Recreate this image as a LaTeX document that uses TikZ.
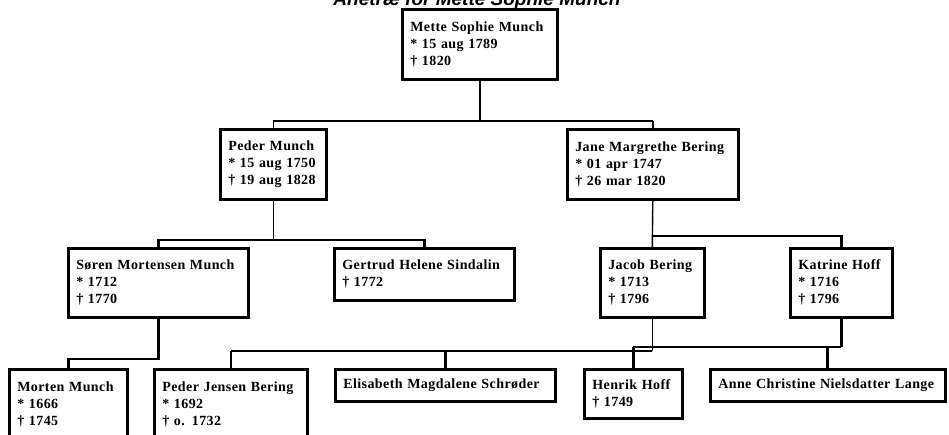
\documentclass[tikz,border=0pt]{standalone}
\usepackage{fontspec}
\newfontfamily\boxserif[LetterSpace=3]{Liberation Serif}
\newfontfamily\titlesans{Liberation Sans}
\newcommand\boxtext{\boxserif\bfseries\fontsize{14}{17}\selectfont}
\begin{document}
\begin{tikzpicture}[x=1pt, y=-1pt, line join=miter,
		pers/.style={draw, line width=2.6pt, anchor=north west, align=left, inner xsep=8pt, inner ysep=0pt, font=\boxtext},
		tynd/.style={line width=1.4pt},
		tyk/.style={line width=2.8pt}]
		\useasboundingbox (0,0) rectangle (949,434);
		%\draw[gray!30] (0,0) grid[step=50] (949,434);
		\node[anchor=base, font=\titlesans\bfseries\itshape\fontsize{19}{21}\selectfont] (titel) at (477,5) {Anetræ for Mette Sophie Munch};
		% generation 1
		\node[pers, text width=139, minimum height=70] (mette) at (401,8) {Mette Sophie Munch\\{*} 15 aug 1789\\† 1820};
		% generation 2
		\node[pers, text width=90, minimum height=70] (peder) at (219,128) {Peder Munch\\{*} 15 aug 1750\\† 19 aug 1828};
		\node[pers, text width=155, minimum height=70] (jane) at (566,128) {Jane Margrethe Bering\\{*} 01 apr 1747\\† 26 mar 1820};
		% generation 3
		\node[pers, text width=164, minimum height=69] (soren) at (67,247) {Søren Mortensen Munch\\{*} 1712\\† 1770};
		\node[pers, text width=164, minimum height=52] (gertrud) at (333,247) {Gertrud Helene Sindalin\\† 1772};
		\node[pers, text width=88, minimum height=69] (jacob) at (599,247) {Jacob Bering\\{*} 1713\\† 1796};
		\node[pers, text width=86, minimum height=69] (katrine) at (789,247) {Katrine Hoff\\{*} 1716\\† 1796};
		% generation 4
		\node[pers, text width=102, minimum height=70] (morten) at (8,368) {Morten Munch\\{*} 1666\\† 1745};
		\node[pers, text width=137, minimum height=70] (pederj) at (153,368) {Peder Jensen Bering\\{*} 1692\\† o. 1732};
		\node[pers, text width=204, minimum height=32] (elisabeth) at (334,368) {Elisabeth Magdalene Schrøder};
		\node[pers, text width=82, minimum height=49] (henrik) at (583,368) {Henrik Hoff\\† 1749};
		\node[pers, text width=219, minimum height=32] (anne) at (709,368) {Anne Christine Nielsdatter Lange};
		% levels of the bars
		\coordinate (bar0) at (0,121);
		\coordinate (bar1) at (0,240);
		\coordinate (bar2) at (0,236);
		\coordinate (bar3) at (0,359);
		\coordinate (bar4) at (0,351);
		\coordinate (bar5) at (0,347);
		% Mette
		\draw[tynd] (mette.south) -- (mette.south |- bar0);
		\draw[tyk] (peder.north |- bar0) -- (jane.north |- bar0);
		\draw[tynd] (peder.north |- bar0) -- (peder.north);
		\draw[tynd] (jane.north |- bar0) -- (jane.north);
		% Peder
		\draw[tynd] (peder.south) -- (peder.south |- bar1);
		\draw[tyk] (soren.north) -- (soren.north |- bar1) -- (gertrud.north |- bar1) -- (gertrud.north);
		% Jane
		\draw[tynd] (jane.south) -- (jacob.north);
		\draw[tyk] (jane.south |- bar2) -- (katrine.north |- bar2) -- (katrine.north);
		% Soren
		\draw[tyk] (soren.south) -- (soren.south |- bar3) -- (morten.north |- bar3) -- (morten.north);
		% Jacob
		\draw[tynd] (jacob.south) -- (jacob.south |- bar4);
		\draw[tyk] (jacob.south |- bar4) -- (pederj.north |- bar4);
		\draw[tynd] (pederj.north |- bar4) -- (pederj.north);
		\draw[tyk] (elisabeth.north |- bar4) -- (elisabeth.north);
		% Katrine
		\draw[tyk] (katrine.south) -- (katrine.south |- bar5);
		\draw[tynd] (katrine.south |- bar5) -- (henrik.north |- bar5);
		\draw[tyk] (henrik.north |- bar5) -- (henrik.north);
		\draw[tyk] (anne.north |- bar5) -- (anne.north);
\end{tikzpicture}
\end{document}
